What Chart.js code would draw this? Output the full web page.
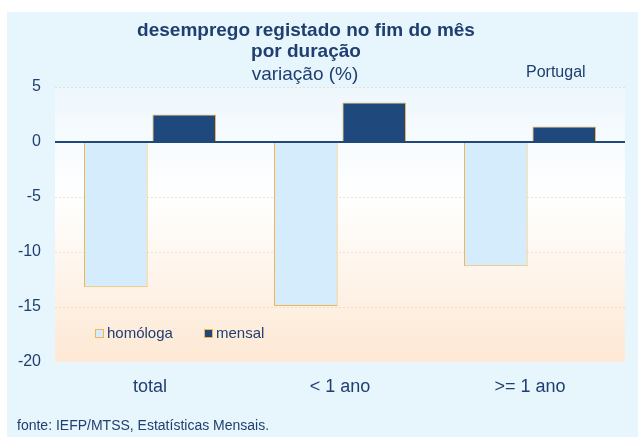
<!DOCTYPE html>
<html>
<head>
<meta charset="utf-8">
<script src="https://cdn.jsdelivr.net/npm/chart.js@4/dist/chart.umd.min.js"></script>
<style>
    html, body { margin: 0; padding: 0; background: #ffffff; }
    #box { width: 638px; height: 437px; }
</style>
</head>
<body>
<div id="box"><canvas id="grafico" width="638" height="437"></canvas></div>
<script>
// dados
var categorias = ['total', '< 1 ano', '>= 1 ano'];
var homologa = [-13.2, -14.9, -11.3];
var mensal = [2.5, 3.6, 1.4];
var ticksY = [5, 0, -5, -10, -15, -20];

var azulEscuro = '#1f497d';
var azulClaro = '#d4ecfc';
var laranja = '#f2b552';
var corTexto = '#1f3f70';

// fundo, títulos, linha do zero e legenda
var desenho = {
    id: 'desenho',
    beforeDraw: function (chart) {
        var ctx = chart.ctx;
        var a = chart.chartArea;
        ctx.save();
        ctx.fillStyle = '#ffffff';
        ctx.fillRect(0, 0, chart.width, chart.height);
        ctx.fillStyle = '#e7f5fd';
        ctx.fillRect(7, 12, chart.width - 7, chart.height - 12);
        var g = ctx.createLinearGradient(0, a.top, 0, a.bottom);
        g.addColorStop(0, '#eef7fd');
        g.addColorStop(0.4, '#ffffff');
        g.addColorStop(1, '#fde8d4');
        ctx.fillStyle = g;
        ctx.fillRect(a.left, a.top, a.right - a.left, a.bottom - a.top);
        ctx.restore();
    },
    afterDatasetsDraw: function (chart) {
        var ctx = chart.ctx;
        var a = chart.chartArea;
        var y0 = chart.scales.y.getPixelForValue(0);
        ctx.save();
        ctx.strokeStyle = azulEscuro;
        ctx.lineWidth = 2;
        ctx.beginPath();
        ctx.moveTo(a.left, y0);
        ctx.lineTo(a.right, y0);
        ctx.stroke();
        ctx.restore();
    },
    afterDraw: function (chart) {
        var ctx = chart.ctx;
        ctx.save();
        ctx.fillStyle = corTexto;
        ctx.textBaseline = 'alphabetic';
        ctx.textAlign = 'center';
        ctx.font = 'bold 19px "Liberation Sans", Arial, sans-serif';
        ctx.fillText('desemprego registado no fim do mês', 306, 36);
        ctx.fillText('por duração', 306, 57);
        ctx.font = '19px "Liberation Sans", Arial, sans-serif';
        ctx.fillText('variação (%)', 305, 80);
        ctx.textAlign = 'left';
        ctx.font = '16px "Liberation Sans", Arial, sans-serif';
        ctx.fillText('Portugal', 526, 77);
        ctx.font = '14px "Liberation Sans", Arial, sans-serif';
        ctx.fillText('fonte: IEFP/MTSS, Estatísticas Mensais.', 17, 430);

        // legenda dentro da área do gráfico
        var itens = [
            {x: 95, texto: 'homóloga', ds: chart.data.datasets[0]},
            {x: 204, texto: 'mensal', ds: chart.data.datasets[1]}
        ];
        ctx.font = '15px "Liberation Sans", Arial, sans-serif';
        itens.forEach(function (it) {
            ctx.fillStyle = it.ds.backgroundColor;
            ctx.fillRect(it.x, 329, 8, 8);
            ctx.strokeStyle = it.ds.borderColor;
            ctx.lineWidth = 1;
            ctx.strokeRect(it.x + 0.5, 329.5, 8, 8);
            ctx.fillStyle = corTexto;
            ctx.fillText(it.texto, it.x + 12, 338);
        });
        ctx.restore();
    }
};

new Chart(document.getElementById('grafico'), {
    type: 'bar',
    data: {
        labels: categorias,
        datasets: [{
            label: 'homóloga',
            data: homologa,
            backgroundColor: azulClaro,
            borderColor: laranja,
            borderWidth: 1,
            categoryPercentage: 0.72,
            barPercentage: 0.93
        }, {
            label: 'mensal',
            data: mensal,
            backgroundColor: azulEscuro,
            borderColor: laranja,
            borderWidth: 1,
            categoryPercentage: 0.72,
            barPercentage: 0.93
        }]
    },
    options: {
        responsive: false,
        animation: false,
        layout: {
            padding: {top: 87, right: 13, bottom: 0, left: 0}
        },
        plugins: {
            legend: {display: false},
            title: {display: false},
            tooltip: {enabled: false}
        },
        scales: {
            x: {
                grid: {display: false, drawTicks: false},
                border: {display: false},
                ticks: {
                    color: corTexto,
                    padding: 14,
                    font: {family: '"Liberation Sans", Arial, sans-serif', size: 18}
                },
                afterFit: function (scale) { scale.height = 75; }
            },
            y: {
                min: -20,
                max: 5,
                afterBuildTicks: function (scale) {
                    scale.ticks = ticksY.map(function (v) { return {value: v}; });
                },
                grid: {
                    drawTicks: false,
                    color: function (c) {
                        if (c.tick.value === 0 || c.tick.value === -20) return 'rgba(0,0,0,0)';
                        return 'rgba(225, 215, 195, 0.7)';
                    },
                    lineWidth: 1
                },
                border: {display: false, dash: [2, 2]},
                ticks: {
                    color: corTexto,
                    padding: 14,
                    font: {family: '"Liberation Sans", Arial, sans-serif', size: 16}
                },
                afterFit: function (scale) { scale.width = 55; }
            }
        }
    },
    plugins: [desenho]
});
</script>
</body>
</html>
